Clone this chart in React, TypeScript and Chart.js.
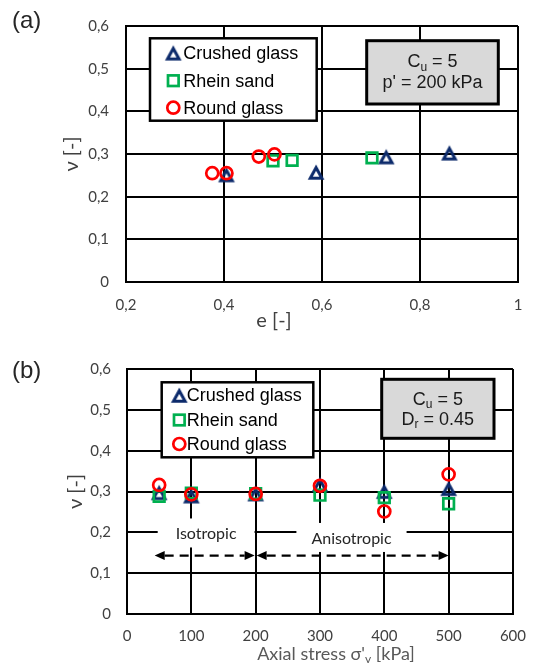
import React, { useEffect, useRef } from 'react';
import { Chart, registerables } from 'chart.js';

Chart.register(...registerables);

// Marker colours
const CRUSHED_COLOR = '#0c2a6b';
const RHEIN_COLOR = '#00b050';
const ROUND_COLOR = '#ff0000';

// Panel (a): Poisson's ratio against void ratio e (Cu = 5, p' = 200 kPa)
const crushedVoidRatio = [0.405, 0.588, 0.731, 0.86];
const crushedNuA = [0.252, 0.258, 0.294, 0.303];
const rheinVoidRatio = [0.5, 0.539, 0.702];
const rheinNuA = [0.284, 0.285, 0.291];
const roundVoidRatio = [0.376, 0.405, 0.471, 0.503];
const roundNuA = [0.255, 0.255, 0.294, 0.299];

// Panel (b): Poisson's ratio against axial stress (Cu = 5, Dr = 0.45)
const axialStress = [50, 100, 200, 300, 400, 500];
const crushedNuB = [0.298, 0.29, 0.295, 0.318, 0.301, 0.308];
const rheinNuB = [0.288, 0.296, 0.295, 0.291, 0.285, 0.27];
const roundNuB = [0.316, 0.293, 0.294, 0.314, 0.251, 0.342];

// Tick labels
const nuTickLabels = ['0', '0,1', '0,2', '0,3', '0,4', '0,5', '0,6'];
const voidRatioTickLabels = ['0,2', '0,4', '0,6', '0,8', '1'];
const stressTickLabels = ['0', '100', '200', '300', '400', '500', '600'];

const seriesNames = ['Crushed glass', 'Rhein sand', 'Round glass'];

// Loading paths along the stress axis (kPa)
const isotropicRange = [43, 200];
const anisotropicRange = [200, 500];

const TICK_FAMILY = 'Lato, "Liberation Sans", sans-serif';
const BOX_FONT = '18px "Liberation Sans", Arial, sans-serif';
const SUB_FONT = '12px "Liberation Sans", Arial, sans-serif';
const TITLE_FONT = '20px Lato, "DejaVu Sans", sans-serif';
const MARKER_LINE = 2.7;

type Part = { t: string; sub?: boolean };

// Open triangle marker whose bounding box is centred on the point
function makeTriangle(color: string): HTMLCanvasElement {
  const c = document.createElement('canvas');
  c.width = 20;
  c.height = 20;
  const g = c.getContext('2d')!;
  g.strokeStyle = color;
  g.lineWidth = 3;
  g.lineJoin = 'miter';
  g.beginPath();
  g.moveTo(10, 5.7);
  g.lineTo(15.8, 16.2);
  g.lineTo(4.2, 16.2);
  g.closePath();
  g.stroke();
  return c;
}

function drawParts(ctx: CanvasRenderingContext2D, parts: Part[], cx: number, cy: number, font: string, subFont: string) {
  ctx.save();
  ctx.textBaseline = 'middle';
  ctx.textAlign = 'left';
  let total = 0;
  const widths = parts.map((p) => {
    ctx.font = p.sub ? subFont : font;
    const w = ctx.measureText(p.t).width;
    total += w;
    return w;
  });
  let x = cx - total / 2;
  parts.forEach((p, i) => {
    ctx.font = p.sub ? subFont : font;
    ctx.fillText(p.t, x, p.sub ? cy + 5 : cy);
    x += widths[i];
  });
  ctx.restore();
}

function drawLegend(
  ctx: CanvasRenderingContext2D,
  box: number[],
  rowsY: number[],
  markerX: number,
  textX: number,
  tri: HTMLCanvasElement
) {
  ctx.save();
  ctx.fillStyle = '#fff';
  ctx.fillRect(box[0], box[1], box[2], box[3]);
  ctx.lineWidth = 2.5;
  ctx.strokeStyle = '#000';
  ctx.strokeRect(box[0], box[1], box[2], box[3]);
  ctx.drawImage(tri, markerX - 10, rowsY[0] - 10);
  ctx.lineWidth = MARKER_LINE;
  ctx.strokeStyle = RHEIN_COLOR;
  ctx.strokeRect(markerX - 5.3, rowsY[1] - 5.3, 10.6, 10.6);
  ctx.strokeStyle = ROUND_COLOR;
  ctx.beginPath();
  ctx.arc(markerX, rowsY[2], 6, 0, Math.PI * 2);
  ctx.stroke();
  ctx.fillStyle = '#000';
  ctx.font = BOX_FONT;
  ctx.textBaseline = 'middle';
  ctx.textAlign = 'left';
  seriesNames.forEach((n, i) => ctx.fillText(n, textX, rowsY[i] + 1));
  ctx.restore();
}

function drawInfoBox(ctx: CanvasRenderingContext2D, box: number[], lines: Part[][], cx: number, ys: number[]) {
  ctx.save();
  ctx.fillStyle = '#d9d9d9';
  ctx.fillRect(box[0], box[1], box[2], box[3]);
  ctx.lineWidth = 3;
  ctx.strokeStyle = '#000';
  ctx.strokeRect(box[0], box[1], box[2], box[3]);
  ctx.fillStyle = '#1a1a1a';
  lines.forEach((l, i) => drawParts(ctx, l, cx, ys[i], BOX_FONT, SUB_FONT));
  ctx.restore();
}

function drawPanelLabel(ctx: CanvasRenderingContext2D, text: string, x: number, y: number) {
  ctx.save();
  ctx.font = '24px "Liberation Sans", Arial, sans-serif';
  ctx.fillStyle = '#262626';
  ctx.textBaseline = 'middle';
  ctx.textAlign = 'left';
  ctx.fillText(text, x, y);
  ctx.restore();
}

function drawYTitle(ctx: CanvasRenderingContext2D, chart: Chart, x: number) {
  const a = chart.chartArea;
  ctx.save();
  ctx.translate(x, (a.top + a.bottom) / 2);
  ctx.rotate(-Math.PI / 2);
  ctx.font = TITLE_FONT;
  ctx.fillStyle = '#404040';
  ctx.textAlign = 'center';
  ctx.textBaseline = 'middle';
  ctx.fillText('\u03bd [-]', 0, 0);
  ctx.restore();
}

function drawArrow(ctx: CanvasRenderingContext2D, x1: number, x2: number, y: number) {
  const head = 10;
  const half = 4.5;
  ctx.save();
  ctx.strokeStyle = '#000';
  ctx.fillStyle = '#000';
  ctx.lineWidth = 2.4;
  ctx.setLineDash([9, 6]);
  ctx.beginPath();
  ctx.moveTo(x1 + head, y);
  ctx.lineTo(x2 - head, y);
  ctx.stroke();
  ctx.setLineDash([]);
  ctx.beginPath();
  ctx.moveTo(x1, y);
  ctx.lineTo(x1 + head, y - half);
  ctx.lineTo(x1 + head, y + half);
  ctx.closePath();
  ctx.fill();
  ctx.beginPath();
  ctx.moveTo(x2, y);
  ctx.lineTo(x2 - head, y - half);
  ctx.lineTo(x2 - head, y + half);
  ctx.closePath();
  ctx.fill();
  ctx.restore();
}

function drawRegionLabel(ctx: CanvasRenderingContext2D, text: string, cx: number, cy: number, padX: number) {
  ctx.save();
  ctx.font = '16px Lato, "Liberation Sans", sans-serif';
  const w = ctx.measureText(text).width;
  ctx.fillStyle = '#fff';
  ctx.fillRect(cx - w / 2 - padX, cy - 15.5, w + 2 * padX, 29);
  ctx.fillStyle = '#262626';
  ctx.textAlign = 'center';
  ctx.textBaseline = 'middle';
  ctx.fillText(text, cx, cy);
  ctx.restore();
}

function pts(xs: number[], ys: number[]) {
  return xs.map((x, i) => ({ x, y: ys[i] }));
}

type PanelProps = {
  top: number;
  series: { x: number[]; y: number[] }[];
  xMin: number;
  xMax: number;
  xStep: number;
  xTicks: string[];
  yAxisWidth: number;
  xAxisHeight: number;
  padTop: number;
  padRight: number;
  yTickPad: number;
  xTickPad: number;
  decorate: (chart: Chart, ctx: CanvasRenderingContext2D, tri: HTMLCanvasElement) => void;
};

function NuPanel(props: PanelProps) {
  const ref = useRef<HTMLCanvasElement | null>(null);
  useEffect(() => {
    const canvas = ref.current;
    if (!canvas) return;
    const tri = makeTriangle(CRUSHED_COLOR);
    const styles = [
      { pointStyle: tri as any, pointRadius: 7, borderColor: CRUSHED_COLOR },
      { pointStyle: 'rect', pointRadius: 7.5, borderColor: RHEIN_COLOR },
      { pointStyle: 'circle', pointRadius: 6, borderColor: ROUND_COLOR },
    ];
    const chart = new Chart(canvas, {
      type: 'scatter',
      data: {
        datasets: props.series.map((s, i) => ({
          label: seriesNames[i],
          data: pts(s.x, s.y),
          backgroundColor: 'rgba(0,0,0,0)',
          borderWidth: MARKER_LINE,
          showLine: false,
          order: 2 - i,
          ...styles[i],
        })),
      },
      options: {
        responsive: false,
        animation: false,
        events: [],
        layout: { padding: { top: props.padTop, right: props.padRight, left: 0, bottom: 0 } },
        plugins: { legend: { display: false }, tooltip: { enabled: false } },
        scales: {
          x: {
            type: 'linear',
            min: props.xMin,
            max: props.xMax,
            afterFit: (s: any) => {
              s.height = props.xAxisHeight;
            },
            grid: { color: '#000', lineWidth: 2, drawTicks: false },
            border: { display: true, color: '#000', width: 2 },
            ticks: {
              stepSize: props.xStep,
              autoSkip: false,
              maxRotation: 0,
              padding: props.xTickPad,
              color: '#404040',
              font: { family: TICK_FAMILY, size: 15 },
              callback: (_v: any, i: number) => props.xTicks[i],
            },
          },
          y: {
            type: 'linear',
            min: 0,
            max: 0.6,
            afterFit: (s: any) => {
              s.width = props.yAxisWidth;
            },
            grid: { color: '#000', lineWidth: 2, drawTicks: false },
            border: { display: true, color: '#000', width: 2 },
            ticks: {
              stepSize: 0.1,
              autoSkip: false,
              padding: props.yTickPad,
              color: '#404040',
              font: { family: TICK_FAMILY, size: 15 },
              callback: (_v: any, i: number) => nuTickLabels[i],
            },
          },
        },
      },
      plugins: [
        {
          id: 'panelDecor',
          afterDraw: (c: Chart) => props.decorate(c, c.ctx, tri),
        },
      ],
    });
    return () => chart.destroy();
  }, []);
  return (
    <canvas
      ref={ref}
      width={539}
      height={333}
      style={{ position: 'absolute', left: 0, top: props.top, width: 539, height: 333 }}
    />
  );
}

function decorateA(chart: Chart, ctx: CanvasRenderingContext2D, tri: HTMLCanvasElement) {
  drawPanelLabel(ctx, '(a)', 12, 21);
  drawYTitle(ctx, chart, 72);
  ctx.save();
  ctx.font = TITLE_FONT;
  ctx.fillStyle = '#404040';
  ctx.textAlign = 'center';
  ctx.textBaseline = 'middle';
  ctx.fillText('e [-]', 274, 321);
  ctx.restore();
  drawLegend(ctx, [150, 38.3, 166.7, 82.4], [52.7, 80.7, 107.7], 173.3, 183.3, tri);
  drawInfoBox(
    ctx,
    [366.7, 40.7, 131.6, 63.3],
    [
      [{ t: 'C' }, { t: 'u', sub: true }, { t: ' = 5' }],
      [{ t: "p' = 200 kPa" }],
    ],
    432.5,
    [62.3, 83.3]
  );
}

function decorateB(chart: Chart, ctx: CanvasRenderingContext2D, tri: HTMLCanvasElement) {
  const xs = chart.scales.x;
  const ys = chart.scales.y;
  drawPanelLabel(ctx, '(b)', 12, 38.7);
  drawYTitle(ctx, chart, 75.5);
  ctx.save();
  ctx.fillStyle = '#595959';
  drawParts(
    ctx,
    [{ t: "Axial stress \u03c3'" }, { t: 'v', sub: true }, { t: ' [kPa]' }],
    336,
    321.3,
    '18px Lato, "DejaVu Sans", sans-serif',
    '12px Lato, "DejaVu Sans", sans-serif'
  );
  ctx.restore();

  drawRegionLabel(ctx, 'Isotropic', xs.getPixelForValue(123), ys.getPixelForValue(0.196), 18);
  drawRegionLabel(ctx, 'Anisotropic', xs.getPixelForValue(349), ys.getPixelForValue(0.185), 15);
  const ay = ys.getPixelForValue(0.143);
  drawArrow(ctx, xs.getPixelForValue(isotropicRange[0]), xs.getPixelForValue(isotropicRange[1]) - 1, ay);
  drawArrow(ctx, xs.getPixelForValue(anisotropicRange[0]) + 1, xs.getPixelForValue(anisotropicRange[1]), ay);

  drawLegend(ctx, [161.7, 49.3, 151.6, 75], [62, 87, 111], 179.3, 186.7, tri);
  drawInfoBox(
    ctx,
    [381.7, 46.3, 112.3, 59],
    [
      [{ t: 'C' }, { t: 'u', sub: true }, { t: ' = 5' }],
      [{ t: 'D' }, { t: 'r', sub: true }, { t: ' = 0.45' }],
    ],
    437.8,
    [67, 87]
  );
}

export default function App() {
  return (
    <div style={{ position: 'absolute', left: 0, top: 0, width: 539, height: 666, background: '#fff' }}>
      <NuPanel
        top={0}
        series={[
          { x: crushedVoidRatio, y: crushedNuA },
          { x: rheinVoidRatio, y: rheinNuA },
          { x: roundVoidRatio, y: roundNuA },
        ]}
        xMin={0.2}
        xMax={1}
        xStep={0.2}
        xTicks={voidRatioTickLabels}
        yAxisWidth={126}
        xAxisHeight={51}
        padTop={24}
        padRight={21}
        yTickPad={17}
        xTickPad={14}
        decorate={decorateA}
      />
      <NuPanel
        top={333}
        series={[
          { x: axialStress, y: crushedNuB },
          { x: axialStress, y: rheinNuB },
          { x: axialStress, y: roundNuB },
        ]}
        xMin={0}
        xMax={600}
        xStep={100}
        xTicks={stressTickLabels}
        yAxisWidth={127}
        xAxisHeight={52}
        padTop={36}
        padRight={23}
        yTickPad={16}
        xTickPad={13}
        decorate={decorateB}
      />
    </div>
  );
}
